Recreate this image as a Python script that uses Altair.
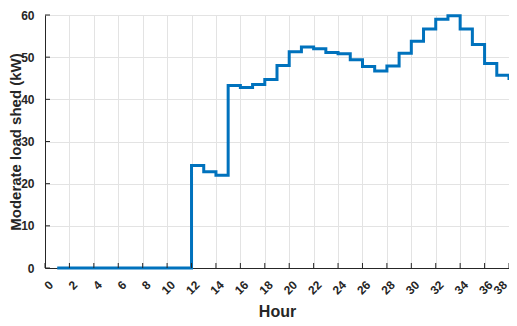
import altair as alt
import pandas as pd

hours = list(range(1, 39))
shed = [0, 0, 0, 0, 0, 0, 0, 0, 0, 0, 0,
        24.3, 22.8, 22.0, 43.3, 42.8, 43.5, 44.7, 48.0, 51.3,
        52.4, 52.0, 51.1, 50.8, 49.4, 47.8, 46.7, 47.9, 50.9,
        53.8, 56.7, 59.0, 59.8, 56.7, 53.0, 48.5, 45.7, 44.6]
x_ticks = list(range(0, 39, 2))
y_ticks = [0, 10, 20, 30, 40, 50, 60]

df = pd.DataFrame({"hour": hours, "shed": shed})
W, H = 464, 253
FONT = "Liberation Sans"
TXT = "#262626"

xscale = alt.Scale(domain=[0, 38], nice=False, zero=False)
yscale = alt.Scale(domain=[0, 60], nice=False)

xaxis = alt.Axis(values=x_ticks, title="Hour", grid=True,
                 gridColor="#e3e3e3", gridWidth=1,
                 tickSize=0, domainColor=TXT, domainWidth=1,
                 labelAngle=-45, labelAlign="right", labelBaseline="top",
                 labelPadding=11, labelOffset={"expr": "datum.value == 38 ? -8 : 2"},
                 labelOverlap=False,
                 labelFont=FONT, labelFontSize=12, labelFontWeight="bold",
                 labelColor=TXT, titleFont=FONT, titleFontSize=16,
                 titleFontWeight="bold", titleColor=TXT,
                 titleBaseline="alphabetic", titleY=48, labelFlush=False)
yaxis = alt.Axis(values=y_ticks, title="Moderate load shed (kW)", grid=True,
                 gridColor="#e3e3e3", gridWidth=1,
                 tickSize=0, domainColor=TXT, domainWidth=1,
                 labelPadding=11, labelFont=FONT, labelFontSize=12,
                 labelFontWeight="bold", labelColor=TXT, labelOverlap=False,
                 titleFont=FONT, titleFontSize=15, titleFontWeight="bold",
                 titleColor=TXT, titleX=-29.5, titleY=H / 2,
                 titleBaseline="middle", titleAlign="center", titleAngle=-90,
                 labelFlush=False)

line = alt.Chart(df).mark_line(
    interpolate="step-after", color="#0072BD", strokeWidth=3, clip=False
).encode(
    x=alt.X("hour:Q", scale=xscale, axis=xaxis),
    y=alt.Y("shed:Q", scale=yscale, axis=yaxis),
)

yt = alt.Chart(pd.DataFrame({"shed": y_ticks})).mark_rule(color=TXT, strokeWidth=1).encode(
    y=alt.Y("shed:Q", scale=yscale, axis=yaxis), x=alt.value(0), x2=alt.value(5))
xt = alt.Chart(pd.DataFrame({"hour": x_ticks})).mark_rule(color=TXT, strokeWidth=1).encode(
    x=alt.X("hour:Q", scale=xscale, axis=xaxis), y=alt.value(H), y2=alt.value(H - 5))

chart = alt.layer(line, yt, xt).properties(
    width=W, height=H,
    autosize=alt.AutoSizeParams(type="none"),
    padding={"left": 37, "top": 7, "right": 0, "bottom": 50},
).configure_view(stroke="#e3e3e3", strokeWidth=1).configure(background="white")

chart.save("out.html", embed_options={"renderer": "svg", "actions": False})
